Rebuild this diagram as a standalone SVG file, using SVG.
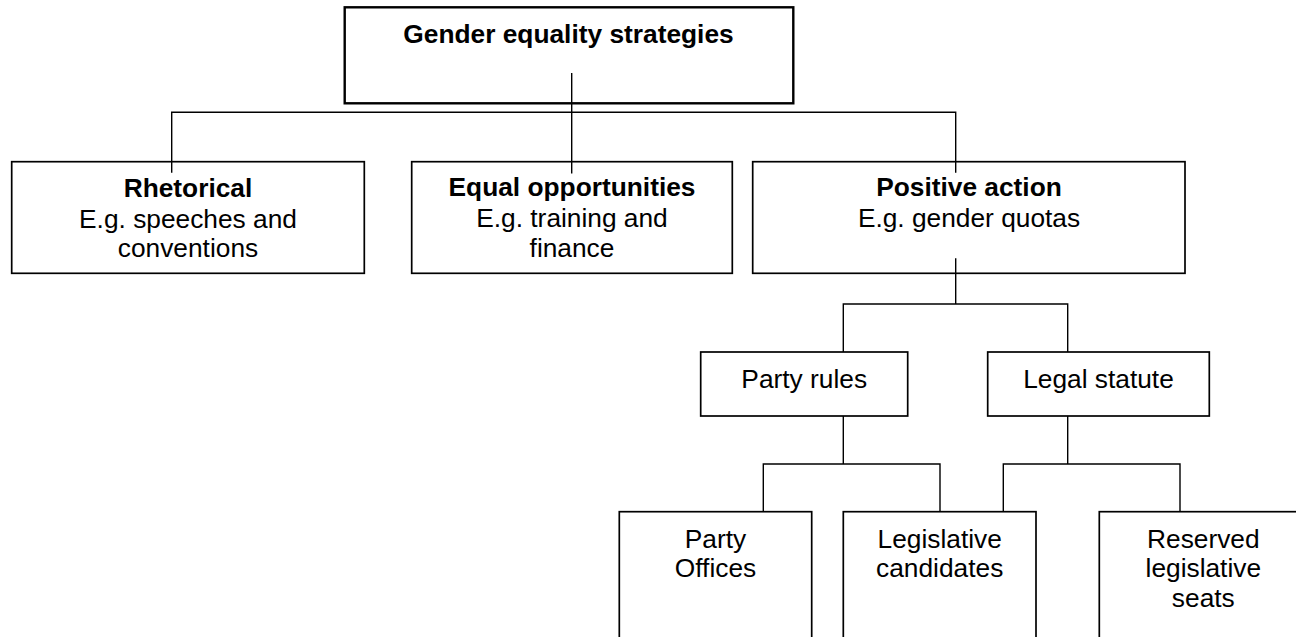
<svg xmlns="http://www.w3.org/2000/svg" width="1296" height="637" viewBox="0 0 1296 637">
<style>
.box{fill:#fff;stroke:#000;stroke-width:1.7}
.top{fill:#fff;stroke:#000;stroke-width:2.4}
.con{fill:none;stroke:#000;stroke-width:1.4}
text{font-family:"Liberation Sans",Arial,sans-serif;font-size:26.3px;fill:#000;text-anchor:middle}
.b{font-weight:bold}
</style>
<rect width="1296" height="637" fill="#fff"/>
<g id="n-root">
<rect class="top" x="344.7" y="7.3" width="448.6" height="96"/>
<text class="b" x="568.5" y="43.3">Gender equality strategies</text>
</g>
<g id="n-rhetorical">
<rect class="box" x="11.7" y="161.7" width="352.6" height="111.6"/>
<text x="188" y="196.7"><tspan class="b">Rhetorical</tspan></text>
<text x="188" y="228">E.g. speeches and</text>
<text x="188" y="257.3">conventions</text>
</g>
<g id="n-equal">
<rect class="box" x="411.7" y="161.7" width="320.6" height="111.6"/>
<text class="b" x="572" y="196.3">Equal opportunities</text>
<text x="572" y="227.3">E.g. training and</text>
<text x="572" y="257.3">finance</text>
</g>
<g id="n-positive">
<rect class="box" x="752.7" y="161.7" width="432.3" height="111.6"/>
<text class="b" x="969" y="196.3">Positive action</text>
<text x="969" y="226.7">E.g. gender quotas</text>
</g>
<g id="n-party-rules">
<rect class="box" x="700.7" y="352" width="207" height="64"/>
<text x="804.2" y="388.3">Party rules</text>
</g>
<g id="n-legal">
<rect class="box" x="987.7" y="352" width="221.6" height="64"/>
<text x="1098.5" y="388.3">Legal statute</text>
</g>
<g id="n-party-offices">
<rect class="box" x="619.3" y="511.7" width="192.4" height="140"/>
<text x="715.5" y="548.3">Party</text>
<text x="715.5" y="577.3">Offices</text>
</g>
<g id="n-leg-cand">
<rect class="box" x="843.3" y="511.7" width="192.7" height="140"/>
<text x="939.7" y="548.3">Legislative</text>
<text x="939.7" y="577.3">candidates</text>
</g>
<g id="n-reserved">
<rect class="box" x="1099.3" y="511.7" width="208" height="140"/>
<text x="1203.3" y="548.3">Reserved</text>
<text x="1203.3" y="577.3">legislative</text>
<text x="1203.3" y="606.7">seats</text>
</g>
<g id="connectors">
<path class="con" d="M571.7 73V173.5"/>
<path class="con" d="M171.7 172.7V112.3H955.7V172.7"/>
<path class="con" d="M955.7 258.3V304H843.3V352M955.7 304H1067.7V352"/>
<path class="con" d="M843.3 416V464H763.3V511.7M843.3 464H940V511.7"/>
<path class="con" d="M1067.7 416V464H1003.3V511.7M1067.7 464H1180V511.7"/>
</g>
</svg>
